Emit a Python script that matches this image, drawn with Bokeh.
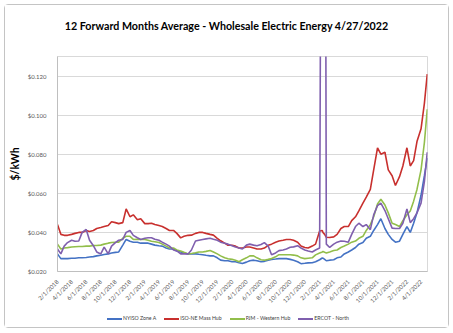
import pandas as pd
from bokeh.plotting import figure
from bokeh.layouts import column
from bokeh.models import (FixedTicker, NumeralTickFormatter, CustomJSTickFormatter,
                          Range1d, Div)
from bokeh.embed import file_html
from bokeh.resources import INLINE

title_text = "12 Forward Months Average - Wholesale Electric Energy 4/27/2022"
y_label = "$/kWh"
series_names = ["NYISO Zone A", "ISO-NE Mass Hub", "PJM - Western Hub", "ERCOT - North"]
series_colors = ["#4472C4", "#C8302E", "#92BE4B", "#7F5FAE"]

dates = [
    # 2018
    "2018-02-01", "2018-02-15", "2018-03-01", "2018-03-15", "2018-04-01", "2018-04-15",
    "2018-05-01", "2018-05-15", "2018-06-01", "2018-06-15", "2018-07-01", "2018-07-15",
    "2018-08-01", "2018-08-15", "2018-09-01", "2018-09-15", "2018-10-01", "2018-10-15",
    "2018-11-01", "2018-11-15", "2018-12-01", "2018-12-15",
    # 2019
    "2019-01-01", "2019-01-15", "2019-02-01", "2019-02-15", "2019-03-01", "2019-03-15",
    "2019-04-01", "2019-04-15", "2019-05-01", "2019-05-15", "2019-06-01", "2019-06-15",
    "2019-07-01", "2019-07-15", "2019-08-01", "2019-08-15", "2019-09-01", "2019-09-15",
    "2019-10-01", "2019-10-15", "2019-11-01", "2019-11-15", "2019-12-01", "2019-12-15",
    # 2020
    "2020-01-01", "2020-01-15", "2020-02-01", "2020-02-15", "2020-03-01", "2020-03-15",
    "2020-04-01", "2020-04-15", "2020-05-01", "2020-05-15", "2020-06-01", "2020-06-15",
    "2020-07-01", "2020-07-15", "2020-08-01", "2020-08-15", "2020-09-01", "2020-09-15",
    "2020-10-01", "2020-10-15", "2020-11-01", "2020-11-15", "2020-12-01", "2020-12-15",
    # 2021
    "2021-01-01", "2021-01-15", "2021-02-01", "2021-02-12", "2021-02-15", "2021-02-22",
    "2021-03-01", "2021-03-15", "2021-04-01", "2021-04-15", "2021-05-01", "2021-05-15",
    "2021-06-01", "2021-06-15", "2021-07-01", "2021-07-15", "2021-08-01", "2021-08-15",
    "2021-09-01", "2021-09-15", "2021-10-01", "2021-10-15", "2021-11-01", "2021-11-15",
    "2021-12-01", "2021-12-15",
    # 2022
    "2022-01-01", "2022-01-15", "2022-02-01", "2022-02-15", "2022-03-01", "2022-03-15",
    "2022-04-01", "2022-04-15", "2022-04-27",
]

nyiso_zone_a = [
    0.0290, 0.0266, 0.0266, 0.0266, 0.0268, 0.0268, 0.0270, 0.0270, 0.0272, 0.0274,
    0.0276, 0.0280, 0.0283, 0.0287, 0.0290, 0.0295, 0.0298, 0.0300, 0.0335, 0.0364,
    0.0355, 0.0350,
    0.0350, 0.0345, 0.0345, 0.0345, 0.0340, 0.0335, 0.0332, 0.0330, 0.0320, 0.0315,
    0.0315, 0.0305, 0.0300, 0.0295, 0.0290, 0.0290, 0.0290, 0.0288, 0.0286, 0.0283,
    0.0280, 0.0280, 0.0270, 0.0258,
    0.0255, 0.0255, 0.0250, 0.0250, 0.0245, 0.0241, 0.0248, 0.0255, 0.0258, 0.0255,
    0.0250, 0.0252, 0.0258, 0.0262, 0.0264, 0.0266, 0.0266, 0.0266, 0.0262, 0.0258,
    0.0250, 0.0240, 0.0242, 0.0244,
    0.0245, 0.0250, 0.0260, 0.0269, 0.0268, 0.0262, 0.0255, 0.0258, 0.0260, 0.0270,
    0.0274, 0.0290, 0.0300, 0.0310, 0.0323, 0.0340, 0.0348, 0.0370, 0.0380, 0.0410,
    0.0440, 0.0470, 0.0420, 0.0390, 0.0364, 0.0350,
    0.0355, 0.0390, 0.0430, 0.0400, 0.0447, 0.0500, 0.0590, 0.0690, 0.0780,
]

iso_ne_mass_hub = [
    0.0440, 0.0390, 0.0385, 0.0385, 0.0390, 0.0395, 0.0400, 0.0400, 0.0410, 0.0405,
    0.0410, 0.0420, 0.0425, 0.0430, 0.0435, 0.0455, 0.0450, 0.0445, 0.0450, 0.0520,
    0.0480, 0.0490,
    0.0465, 0.0470, 0.0445, 0.0445, 0.0447, 0.0440, 0.0435, 0.0430, 0.0420, 0.0410,
    0.0410, 0.0395, 0.0372, 0.0380, 0.0385, 0.0386, 0.0395, 0.0400, 0.0400, 0.0395,
    0.0390, 0.0386, 0.0370, 0.0357,
    0.0345, 0.0334, 0.0334, 0.0330, 0.0320, 0.0320, 0.0325, 0.0325, 0.0320, 0.0315,
    0.0315, 0.0320, 0.0334, 0.0340, 0.0350, 0.0356, 0.0360, 0.0364, 0.0364, 0.0360,
    0.0350, 0.0330, 0.0323, 0.0320,
    0.0330, 0.0340, 0.0407, 0.0410, 0.0400, 0.0390, 0.0375, 0.0374, 0.0377, 0.0390,
    0.0420, 0.0430, 0.0430, 0.0460, 0.0480, 0.0510, 0.0550, 0.0580, 0.0620, 0.0720,
    0.0833, 0.0800, 0.0810, 0.0720, 0.0690, 0.0640,
    0.0685, 0.0740, 0.0833, 0.0740, 0.0767, 0.0865, 0.0930, 0.1060, 0.1210,
]

pjm_western_hub = [
    0.0340, 0.0315, 0.0320, 0.0322, 0.0325, 0.0327, 0.0328, 0.0328, 0.0330, 0.0330,
    0.0333, 0.0333, 0.0335, 0.0340, 0.0345, 0.0348, 0.0350, 0.0350, 0.0370, 0.0380,
    0.0380, 0.0364,
    0.0365, 0.0364, 0.0364, 0.0360, 0.0355, 0.0352, 0.0348, 0.0340, 0.0330, 0.0320,
    0.0320, 0.0310, 0.0305, 0.0298, 0.0290, 0.0292, 0.0296, 0.0300, 0.0300, 0.0303,
    0.0307, 0.0300, 0.0290, 0.0280,
    0.0270, 0.0265, 0.0262, 0.0258, 0.0250, 0.0260, 0.0270, 0.0280, 0.0280, 0.0270,
    0.0260, 0.0258, 0.0262, 0.0266, 0.0275, 0.0286, 0.0286, 0.0286, 0.0286, 0.0284,
    0.0280, 0.0270, 0.0266, 0.0268,
    0.0270, 0.0285, 0.0295, 0.0300, 0.0302, 0.0298, 0.0295, 0.0300, 0.0307, 0.0310,
    0.0323, 0.0330, 0.0340, 0.0350, 0.0356, 0.0370, 0.0380, 0.0410, 0.0440, 0.0480,
    0.0545, 0.0570, 0.0540, 0.0500, 0.0447, 0.0440,
    0.0430, 0.0460, 0.0490, 0.0510, 0.0560, 0.0620, 0.0720, 0.0860, 0.1030,
]

ercot_north = [
    0.0315, 0.0290, 0.0330, 0.0348, 0.0360, 0.0355, 0.0356, 0.0400, 0.0415, 0.0360,
    0.0332, 0.0300, 0.0290, 0.0325, 0.0290, 0.0330, 0.0348, 0.0360, 0.0364, 0.0400,
    0.0410, 0.0385,
    0.0373, 0.0364, 0.0370, 0.0373, 0.0373, 0.0365, 0.0360, 0.0350, 0.0340, 0.0330,
    0.0310, 0.0305, 0.0290, 0.0290, 0.0290, 0.0310, 0.0356, 0.0360, 0.0364, 0.0367,
    0.0370, 0.0365, 0.0360, 0.0350,
    0.0345, 0.0340, 0.0332, 0.0325, 0.0320, 0.0315, 0.0335, 0.0340, 0.0335, 0.0332,
    0.0338, 0.0348, 0.0330, 0.0286, 0.0295, 0.0307, 0.0310, 0.0315, 0.0324, 0.0326,
    0.0332, 0.0320, 0.0310, 0.0305,
    0.0300, 0.0310, 0.0320, 0.4000, 0.4500, 0.4000, 0.0340, 0.0323, 0.0340, 0.0350,
    0.0356, 0.0355, 0.0350, 0.0390, 0.0430, 0.0447, 0.0430, 0.0440, 0.0414, 0.0490,
    0.0537, 0.0550, 0.0512, 0.0470, 0.0422, 0.0420,
    0.0420, 0.0447, 0.0520, 0.0450, 0.0470, 0.0500, 0.0550, 0.0660, 0.0810,
]

tick_dates = [
    "2018-02-01", "2018-04-01", "2018-06-01", "2018-08-01", "2018-10-01", "2018-12-01",
    "2019-02-01", "2019-04-01", "2019-06-01", "2019-08-01", "2019-10-01", "2019-12-01",
    "2020-02-01", "2020-04-01", "2020-06-01", "2020-08-01", "2020-10-01", "2020-12-01",
    "2021-02-01", "2021-04-01", "2021-06-01", "2021-08-01", "2021-10-01", "2021-12-01",
    "2022-02-01", "2022-04-01",
]
tick_labels = [
    "2/1/2018", "4/1/2018", "6/1/2018", "8/1/2018", "10/1/2018", "12/1/2018",
    "2/1/2019", "4/1/2019", "6/1/2019", "8/1/2019", "10/1/2019", "12/1/2019",
    "2/1/2020", "4/1/2020", "6/1/2020", "8/1/2020", "10/1/2020", "12/1/2020",
    "2/1/2021", "4/1/2021", "6/1/2021", "8/1/2021", "10/1/2021", "12/1/2021",
    "2/1/2022", "4/1/2022",
]
y_ticks = [0.02, 0.04, 0.06, 0.08, 0.10, 0.12]
y_min, y_max = 0.02, 0.13
x_start, x_end = "2018-02-01", "2022-04-28"

FONT = "Lato"

x = pd.to_datetime(dates)
tick_ms = [float(pd.Timestamp(d).value // 10**6) for d in tick_dates]

# ---- title (HTML text above the plot) ----
title_div = Div(text=title_text, width=443, height=46, margin=0,
                styles={"font-family": FONT, "font-weight": "bold", "font-size": "10.7px",
                        "color": "#000000", "text-align": "center", "width": "443px",
                        "padding-top": "14px", "box-sizing": "border-box",
                        "white-space": "nowrap", "background": "white",
                        "line-height": "13px"})

# ---- main chart ----
p = figure(width=443, height=258, x_axis_type="datetime",
           output_backend="svg", toolbar_location=None,
           x_range=Range1d(pd.Timestamp(x_start), pd.Timestamp(x_end)),
           y_range=Range1d(y_min, y_max),
           min_border_left=47, min_border_right=21,
           min_border_top=5, min_border_bottom=29)
p.background_fill_color = "white"
p.border_fill_color = "white"
p.outline_line_color = "#d9d9d9"

all_series = [nyiso_zone_a, iso_ne_mass_hub, pjm_western_hub, ercot_north]
for color, vals in zip(series_colors, all_series):
    p.line(x, vals, line_color=color, line_width=1.6)

p.xgrid.grid_line_color = None
p.ygrid.grid_line_color = "#d9d9d9"
p.ygrid.ticker = FixedTicker(ticks=y_ticks)

p.yaxis.ticker = FixedTicker(ticks=y_ticks)
p.yaxis.formatter = NumeralTickFormatter(format="$0.000")
p.xaxis.ticker = FixedTicker(ticks=tick_ms)
p.xaxis.formatter = CustomJSTickFormatter(
    args=dict(tick_vals=tick_ms, tick_text=tick_labels),
    code="""
    const i = tick_vals.indexOf(tick);
    if (i >= 0) { return tick_text[i]; }
    const d = new Date(tick);
    return (d.getUTCMonth()+1) + '/' + d.getUTCDate() + '/' + d.getUTCFullYear();
    """)
p.xaxis.major_label_orientation = 0.785398

for ax in (p.xaxis, p.yaxis):
    ax.axis_line_color = "#bfbfbf"
    ax.major_tick_line_color = None
    ax.minor_tick_line_color = None
    ax.major_label_text_font = FONT
    ax.major_label_text_font_size = "6px"
    ax.major_label_text_color = "#595959"
p.xaxis.major_label_standoff = 3
p.yaxis.major_label_standoff = 5

p.yaxis.axis_label = y_label
p.yaxis.axis_label_text_font = FONT
p.yaxis.axis_label_text_font_style = "bold"
p.yaxis.axis_label_text_font_size = "10.5px"
p.yaxis.axis_label_text_color = "#000000"
p.yaxis.axis_label_standoff = 4

# ---- legend strip (HTML) ----
legend_parts = []
for name, color in zip(series_names, series_colors):
    legend_parts.append(
        '<span style="display:inline-block;white-space:nowrap;margin-right:8px">'
        '<span style="display:inline-block;width:15px;height:0;'
        f'border-top:2px solid {color};vertical-align:middle;margin-right:1px"></span>'
        f'{name}</span>')
legend_div = Div(text="".join(legend_parts), width=443, height=18, margin=0,
                 styles={"font-family": FONT, "font-size": "5.2px", "color": "#404040",
                         "padding-left": "102px", "box-sizing": "border-box",
                         "width": "443px", "height": "18px", "line-height": "18px",
                         "white-space": "nowrap", "background": "white"})

layout = column(title_div, p, legend_div, spacing=0)
layout.margin = (5, 5, 5, 5)
layout.styles = {"outline": "1px solid #c4c4c4", "border-radius": "3px",
                 "background": "white"}

open("out.html", "w").write(file_html(layout, INLINE))
